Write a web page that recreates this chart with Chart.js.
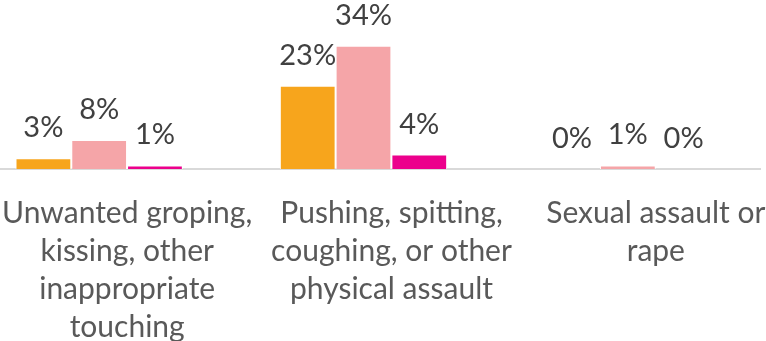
<!DOCTYPE html>
<html>
<head>
<meta charset="utf-8">
<script src="https://cdn.jsdelivr.net/npm/chart.js@4.4.1/dist/chart.umd.min.js"></script>
<style>
  html, body { margin: 0; padding: 0; background: #fff; overflow: hidden; }
  body { width: 766px; height: 341px; position: relative; }
  #wrap { position: absolute; left: -33px; top: 0; width: 800px; height: 341px; }
</style>
</head>
<body>
<div id="wrap"><canvas id="chart" width="800" height="341"></canvas></div>
<script>
// categories (pre-wrapped into lines) and the three series, in percent
const categories = [
    ['Unwanted groping,', 'kissing, other', 'inappropriate', 'touching'],
    ['Pushing, spitting,', 'coughing, or other', 'physical assault'],
    ['Sexual assault or', 'rape']
];
const seriesA = [3, 23, 0];
const seriesB = [8, 34, 1];
const seriesC = [1, 4, 0];
const seriesNames = ['Series 1', 'Series 2', 'Series 3'];
const seriesColors = ['#F7A51C', '#F5A5A8', '#EC008C'];

const FONT = 'Lato, "Open Sans", sans-serif';

// value labels drawn above each bar
const valueLabels = {
    id: 'valueLabels',
    afterDatasetsDraw(chart) {
        const ctx = chart.ctx;
        ctx.save();
        ctx.font = '29px ' + FONT;
        ctx.fillStyle = '#404040';
        ctx.textAlign = 'center';
        ctx.textBaseline = 'alphabetic';
        chart.data.datasets.forEach((ds, i) => {
            const meta = chart.getDatasetMeta(i);
            meta.data.forEach((bar, j) => {
                ctx.fillText(ds.data[j] + '%', bar.x, bar.y - 21);
            });
        });
        ctx.restore();
    }
};

const datasets = [seriesA, seriesB, seriesC].map((vals, i) => ({
    label: seriesNames[i],
    data: vals,
    backgroundColor: seriesColors[i],
    borderColor: '#ffffff',
    borderWidth: { top: 1, left: 1, right: 1, bottom: 0 },
    categoryPercentage: 0.633,
    barPercentage: 1
}));

new Chart(document.getElementById('chart'), {
    type: 'bar',
    data: { labels: categories, datasets: datasets },
    options: {
        responsive: false,
        devicePixelRatio: 1,
        animation: false,
        layout: { padding: { top: 24, bottom: 0, left: 0, right: 7 } },
        plugins: {
            legend: { display: false },
            tooltip: { enabled: false }
        },
        scales: {
            x: {
                grid: { display: false, drawTicks: false },
                border: { display: true, color: '#D9D9D9', width: 2 },
                ticks: {
                    color: '#595959',
                    padding: 25,
                    labelOffset: 28,
                    maxRotation: 0,
                    autoSkip: false,
                    font: { family: FONT, size: 30, lineHeight: 38 / 30 }
                },
                // keep the axis band fixed so the plot area ends at the baseline
                afterFit(scale) {
                    scale.height = 172;
                    scale.paddingLeft = 0;
                    scale.paddingRight = 0;
                }
            },
            y: {
                display: false,
                min: 0,
                max: 40
            }
        }
    },
    plugins: [valueLabels]
});
</script>
</body>
</html>
